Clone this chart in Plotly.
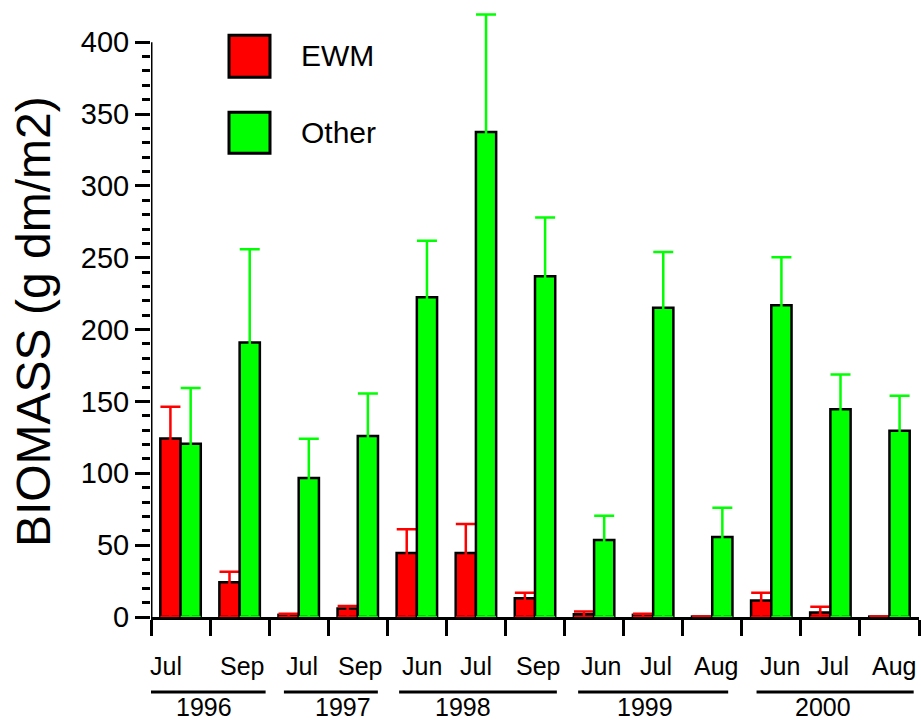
import plotly.graph_objects as go

# ---- data ----
months = ["Jul", "Sep", "Jul", "Sep", "Jun", "Jul", "Sep", "Jun", "Jul", "Aug", "Jun", "Jul", "Aug"]
month_year = ["1996", "1996", "1997", "1997", "1998", "1998", "1998",
              "1999", "1999", "1999", "2000", "2000", "2000"]
years = ["1996", "1997", "1998", "1999", "2000"]

ewm = [124.3, 24.1, 1.5, 6.0, 44.5, 44.5, 13.0, 2.0, 1.5, 0.3, 11.4, 3.2, 0.3]
ewm_err = [22.0, 7.4, 0.8, 1.6, 16.5, 20.2, 3.9, 1.9, 0.8, 0.0, 5.5, 4.0, 0.0]
other = [120.6, 191.1, 96.7, 125.9, 222.6, 337.6, 237.2, 53.6, 215.2, 55.7, 217.0, 144.5, 129.6]
other_err = [38.7, 64.9, 27.3, 29.7, 39.2, 81.7, 40.8, 16.9, 38.9, 20.3, 33.4, 24.3, 24.4]

y_ticks = [0, 50, 100, 150, 200, 250, 300, 350, 400]
y_minor = [v for v in range(0, 401, 10)]

series_names = ["EWM", "Other"]
y_title = "BIOMASS (g dm/m2)"

# ---- style ----
FONT = "Liberation Sans, Arial, Helvetica, sans-serif"
RED = "#ff0000"
GREEN = "#00ff00"
W, H = 921, 721
Y_MAX_AXIS = 400
Y_RANGE_TOP = 428
ZERO_PX, TOP_PX = 617, 42          # pixel rows of 0 and 400
PX_PER_UNIT = (ZERO_PX - TOP_PX) / Y_MAX_AXIS
ML, MR = 151, 2
MB = H - ZERO_PX
MT = TOP_PX - (Y_RANGE_TOP - Y_MAX_AXIS) * PX_PER_UNIT
PW, PH = W - ML - MR, H - MT - MB

def px_x(px):
    return (px - ML) / PW

def px_y(py):
    return (H - MB - py) / PH

month_xshift = [-15, 2, 3, 2, 5, 0, 3, 7, 3, 4, 9, 3, 5]
year_label_pos = [0.40, 2.75, 4.78, 7.86, 10.87]
year_line_span = [(-0.585, 1.44), (1.75, 3.34), (3.70, 6.37), (6.73, 9.27), (9.75, 12.41)]

xs = list(range(len(months)))

fig = go.Figure()
for name, vals, errs, col in [(series_names[0], ewm, ewm_err, RED),
                              (series_names[1], other, other_err, GREEN)]:
    fig.add_trace(go.Bar(
        x=xs, y=vals, name=name,
        marker=dict(color=col, line=dict(color="black", width=2.5)),
        error_y=dict(type="data", symmetric=False, array=errs, arrayminus=vals,
                     color=col, thickness=2.5, width=10, visible=True),
        showlegend=False,
    ))

shapes = []
annotations = []

# y axis line (only up to 400)
shapes.append(dict(type="line", xref="x", yref="y", x0=-0.5, x1=-0.5,
                   y0=0, y1=Y_MAX_AXIS, line=dict(color="black", width=3)))

# month labels
for i, m in enumerate(months):
    annotations.append(dict(x=xs[i], y=px_y(666), xref="x", yref="paper", text=m,
                            showarrow=False, xanchor="center", yanchor="middle",
                            xshift=month_xshift[i],
                            font=dict(family=FONT, size=25, color="black")))

# year lines and labels
for k, yr in enumerate(years):
    x0, x1 = year_line_span[k]
    shapes.append(dict(type="line", xref="x", yref="paper", x0=x0, x1=x1,
                       y0=px_y(692), y1=px_y(692), line=dict(color="black", width=3)))
    annotations.append(dict(x=year_label_pos[k], y=px_y(707), xref="x", yref="paper",
                            text=yr, showarrow=False, xanchor="center", yanchor="middle",
                            borderpad=0,
                            font=dict(family=FONT, size=25, color="black")))

# legend (drawn manually for large swatches)
for name, col, (top, bot), cy in [(series_names[0], RED, (35, 77), 55),
                                  (series_names[1], GREEN, (112, 153), 132)]:
    shapes.append(dict(type="rect", xref="paper", yref="paper",
                       x0=px_x(229), x1=px_x(270), y0=px_y(bot), y1=px_y(top),
                       fillcolor=col, line=dict(color="black", width=3)))
    annotations.append(dict(x=px_x(299), y=px_y(cy), xref="paper", yref="paper",
                            text=name, showarrow=False, xanchor="left", yanchor="middle",
                            font=dict(family=FONT, size=30, color="black")))

# y title
annotations.append(dict(x=px_x(33), y=px_y(322), xref="paper", yref="paper",
                        text=y_title, textangle=-90, showarrow=False,
                        xanchor="center", yanchor="middle",
                        font=dict(family=FONT, size=48, color="black")))

fig.update_layout(
    width=W, height=H,
    margin=dict(l=ML, r=MR, t=MT, b=MB, pad=0),
    paper_bgcolor="white", plot_bgcolor="white",
    barmode="group", bargap=0.315, bargroupgap=0,
    shapes=shapes, annotations=annotations,
    font=dict(family=FONT, color="black"),
    xaxis=dict(range=[-0.5, len(months) - 0.5],
               tickmode="array", tickvals=[i - 0.5 for i in range(len(months) + 1)],
               showticklabels=False, ticks="outside", ticklen=16, tickwidth=2.5,
               tickcolor="black", showline=True, linewidth=3, linecolor="black",
               showgrid=False, zeroline=False, layer="above traces", fixedrange=True),
    yaxis=dict(range=[0, Y_RANGE_TOP], tickmode="array", tickvals=y_ticks,
               ticktext=[str(v) for v in y_ticks],
               ticks="outside", ticklen=15, tickwidth=2.5, tickcolor="black",
               minor=dict(tickmode="array", tickvals=y_minor, ticks="outside", ticklen=8,
                          tickwidth=2.5, tickcolor="black", showgrid=False),
               tickfont=dict(family=FONT, size=29, color="black"),
               showline=False, showgrid=False, zeroline=False,
               layer="above traces", fixedrange=True),
)

fig.write_html("out.html", config={"displayModeBar": False},
               post_script="document.body.style.margin='0';document.body.style.overflow='hidden';")
